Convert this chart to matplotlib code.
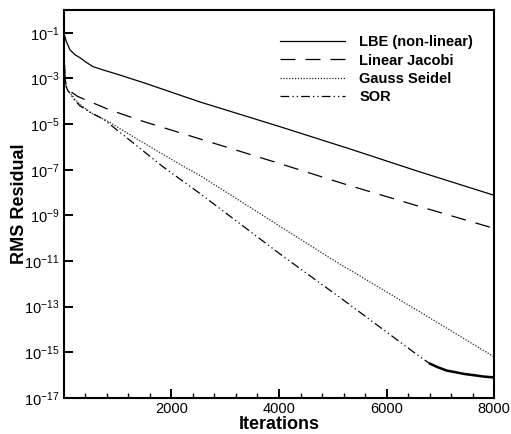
import numpy as np
import matplotlib
matplotlib.use("Agg")
import matplotlib.pyplot as plt

plt.rcParams['font.family'] = ['Liberation Sans', 'DejaVu Sans']
plt.rcParams['mathtext.default'] = 'regular'

# values (iteration, log10 of RMS residual)
lbe_it = [0, 40, 112, 200, 298, 420, 540, 734, 1000, 1500, 2530, 4000, 5321, 6600, 8000]
lbe_log = [-1.0, -1.35, -1.74, -1.95, -2.09, -2.3, -2.48, -2.63, -2.82, -3.2, -4.03, -5.1, -6.09, -7.08, -8.12]

jac_it = [0, 10, 20, 40, 70, 112, 250, 455, 856, 1500, 2530, 4000, 5197, 6600, 8000]
jac_log = [-1.5, -2.4, -2.95, -3.25, -3.42, -3.55, -3.78, -3.99, -4.38, -4.9, -5.65, -6.72, -7.61, -8.6, -9.57]

gs_it = [0, 10, 20, 40, 70, 112, 200, 298, 500, 856, 1500, 2220, 2530, 4000, 4949, 6600, 8000]
gs_log = [-1.6, -2.5, -3.0, -3.3, -3.5, -3.62, -3.9, -4.13, -4.5, -4.93, -5.85, -6.85, -7.25, -9.45, -10.87,
          -13.2, -15.2]

sor_it = [0, 8, 19, 40, 70, 112, 200, 298, 500, 734, 1848, 2530, 4080, 5135, 6623, 6809, 6950, 7120,
          7300, 7450, 7615, 7800, 8000]
sor_log = [-1.5, -1.74, -3.0, -3.35, -3.52, -3.65, -3.95, -4.2, -4.5, -4.78, -6.88, -8.04, -10.8, -12.6,
           -15.2, -15.5, -15.65, -15.8, -15.88, -15.95, -16.0, -16.06, -16.1]
sor_floor_from = 6809  # residual hits round-off noise here (drawn heavier)

xticks = [2000, 4000, 6000, 8000]
yexp = [-1, -3, -5, -7, -9, -11, -13, -15, -17]

fig = plt.figure(figsize=(5.11, 4.34), dpi=100)
ax = fig.add_axes([0.125, 0.083, 0.842, 0.894])

ax.semilogy(lbe_it, 10.0 ** np.array(lbe_log), color='black', lw=0.9, ls='-', label='LBE (non-linear)')
ax.semilogy(jac_it, 10.0 ** np.array(jac_log), color='black', lw=0.9, ls=(0, (12, 8)), label='Linear Jacobi')
ax.semilogy(gs_it, 10.0 ** np.array(gs_log), color='#222222', lw=0.9, ls=(0, (1, 1.3)), label='Gauss Seidel')
ax.semilogy(sor_it, 10.0 ** np.array(sor_log), color='black', lw=0.9, ls=(0, (7, 2.5, 1, 2.5, 1, 2.5)),
            label='SOR')
tail = [i for i, it in enumerate(sor_it) if it >= sor_floor_from]
ax.semilogy([sor_it[i] for i in tail], [10.0 ** sor_log[i] for i in tail], color='black', lw=1.8)

ax.set_xlim(0, 8000)
ax.set_ylim(1e-17, 1e0)

ax.set_xticks(xticks)
ax.set_xticks(np.arange(400, 8000, 400), minor=True)
ax.set_yticks([10.0 ** e for e in yexp])
ax.set_yticklabels(['10$^{%d}$' % e for e in yexp])
ax.yaxis.set_minor_locator(matplotlib.ticker.NullLocator())

ax.tick_params(axis='both', which='major', direction='in', length=6.5, width=1.4, labelsize=10.5, pad=3)
ax.tick_params(axis='x', which='minor', direction='in', length=3.5, width=1.0)
ax.tick_params(top=False, right=False)
for s in ax.spines.values():
    s.set_linewidth(1.5)

ax.set_xlabel('Iterations', fontsize=13, fontweight='bold', labelpad=0)
ax.set_ylabel('RMS Residual', fontsize=13, fontweight='bold', labelpad=-2.5)

leg = ax.legend(loc='upper right', bbox_to_anchor=(0.951, 0.935), frameon=False, handlelength=4.45,
                prop={'weight': 'bold', 'size': 10.5}, labelspacing=0.3, handletextpad=1.0,
                borderpad=0, borderaxespad=0)

fig.savefig('out.png', dpi=100)
